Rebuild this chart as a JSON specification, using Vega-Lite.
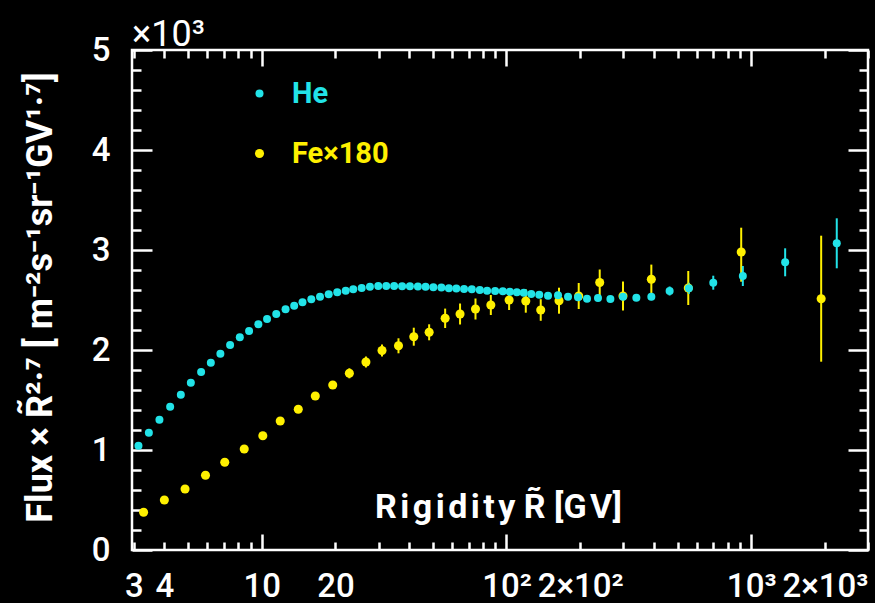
{
  "$schema": "https://vega.github.io/schema/vega-lite/v6.json",
  "width": 736,
  "height": 500,
  "autosize": {"type": "none"},
  "padding": {"left": 132, "top": 50, "right": 7, "bottom": 53},
  "background": "black",
  "title": {"text": "×10³", "anchor": "start", "frame": "group", "fontSize": 36, "fontWeight": "normal", "font": "Roboto", "color": "white", "offset": 4, "dy": 24},
  "config": {
    "view": {"stroke": "white", "strokeWidth": 2.5},
    "axis": {"domain": false, "grid": false, "tickColor": "white", "tickWidth": 2.5, "labelColor": "white", "labelFont": "Roboto", "labelFontSize": 33, "labelFontWeight": 500, "titleColor": "white", "titleFont": "Roboto", "labelOverlap": false, "labelFlush": false, "labelBound": false}
  },
  "data": {"values": [
    {"s": "Fe×180", "R": 3.29, "F": 377, "lo": 362, "hi": 392},
    {"s": "Fe×180", "R": 4.0, "F": 500, "lo": 485, "hi": 515},
    {"s": "Fe×180", "R": 4.86, "F": 610, "lo": 595, "hi": 625},
    {"s": "Fe×180", "R": 5.89, "F": 747, "lo": 732, "hi": 762},
    {"s": "Fe×180", "R": 7.06, "F": 877, "lo": 859, "hi": 895},
    {"s": "Fe×180", "R": 8.48, "F": 1010, "lo": 990, "hi": 1030},
    {"s": "Fe×180", "R": 10.1, "F": 1143, "lo": 1123, "hi": 1163},
    {"s": "Fe×180", "R": 11.9, "F": 1290, "lo": 1268, "hi": 1312},
    {"s": "Fe×180", "R": 14.1, "F": 1407, "lo": 1382, "hi": 1432},
    {"s": "Fe×180", "R": 16.55, "F": 1540, "lo": 1510, "hi": 1570},
    {"s": "Fe×180", "R": 19.5, "F": 1650, "lo": 1610, "hi": 1690},
    {"s": "Fe×180", "R": 22.8, "F": 1767, "lo": 1717, "hi": 1817},
    {"s": "Fe×180", "R": 26.65, "F": 1880, "lo": 1825, "hi": 1935},
    {"s": "Fe×180", "R": 31.0, "F": 1995, "lo": 1935, "hi": 2055},
    {"s": "Fe×180", "R": 36.2, "F": 2042, "lo": 1967, "hi": 2117},
    {"s": "Fe×180", "R": 41.8, "F": 2133, "lo": 2043, "hi": 2223},
    {"s": "Fe×180", "R": 48.3, "F": 2177, "lo": 2097, "hi": 2257},
    {"s": "Fe×180", "R": 56.15, "F": 2317, "lo": 2220, "hi": 2414},
    {"s": "Fe×180", "R": 64.6, "F": 2360, "lo": 2255, "hi": 2465},
    {"s": "Fe×180", "R": 74.7, "F": 2410, "lo": 2305, "hi": 2515},
    {"s": "Fe×180", "R": 86.3, "F": 2450, "lo": 2350, "hi": 2550},
    {"s": "Fe×180", "R": 102.5, "F": 2500, "lo": 2400, "hi": 2600},
    {"s": "Fe×180", "R": 119.9, "F": 2490, "lo": 2373, "hi": 2607},
    {"s": "Fe×180", "R": 138, "F": 2400, "lo": 2292, "hi": 2508},
    {"s": "Fe×180", "R": 163.9, "F": 2493, "lo": 2363, "hi": 2623},
    {"s": "Fe×180", "R": 197.3, "F": 2540, "lo": 2410, "hi": 2670},
    {"s": "Fe×180", "R": 240.4, "F": 2675, "lo": 2545, "hi": 2805},
    {"s": "Fe×180", "R": 299.2, "F": 2540, "lo": 2395, "hi": 2685},
    {"s": "Fe×180", "R": 390.7, "F": 2707, "lo": 2560, "hi": 2854},
    {"s": "Fe×180", "R": 553, "F": 2620, "lo": 2450, "hi": 2790},
    {"s": "Fe×180", "R": 910, "F": 2980, "lo": 2683, "hi": 3223},
    {"s": "Fe×180", "R": 1931, "F": 2513, "lo": 1883, "hi": 3143},
    {"s": "He", "R": 3.135, "F": 1043, "lo": 1035, "hi": 1051},
    {"s": "He", "R": 3.457, "F": 1173, "lo": 1165, "hi": 1181},
    {"s": "He", "R": 3.819, "F": 1303, "lo": 1295, "hi": 1311},
    {"s": "He", "R": 4.224, "F": 1433, "lo": 1425, "hi": 1441},
    {"s": "He", "R": 4.67, "F": 1553, "lo": 1545, "hi": 1561},
    {"s": "He", "R": 5.131, "F": 1673, "lo": 1665, "hi": 1681},
    {"s": "He", "R": 5.652, "F": 1780, "lo": 1772, "hi": 1788},
    {"s": "He", "R": 6.193, "F": 1873, "lo": 1865, "hi": 1881},
    {"s": "He", "R": 6.776, "F": 1963, "lo": 1955, "hi": 1971},
    {"s": "He", "R": 7.424, "F": 2050, "lo": 2042, "hi": 2058},
    {"s": "He", "R": 8.134, "F": 2127, "lo": 2119, "hi": 2135},
    {"s": "He", "R": 8.877, "F": 2190, "lo": 2182, "hi": 2198},
    {"s": "He", "R": 9.685, "F": 2257, "lo": 2249, "hi": 2265},
    {"s": "He", "R": 10.51, "F": 2310, "lo": 2302, "hi": 2318},
    {"s": "He", "R": 11.46, "F": 2360, "lo": 2352, "hi": 2368},
    {"s": "He", "R": 12.51, "F": 2407, "lo": 2399, "hi": 2415},
    {"s": "He", "R": 13.57, "F": 2443, "lo": 2435, "hi": 2451},
    {"s": "He", "R": 14.67, "F": 2478, "lo": 2470, "hi": 2486},
    {"s": "He", "R": 15.94, "F": 2507, "lo": 2499, "hi": 2515},
    {"s": "He", "R": 17.3, "F": 2533, "lo": 2525, "hi": 2541},
    {"s": "He", "R": 18.77, "F": 2558, "lo": 2550, "hi": 2566},
    {"s": "He", "R": 20.35, "F": 2578, "lo": 2570, "hi": 2586},
    {"s": "He", "R": 22.03, "F": 2592, "lo": 2584, "hi": 2600},
    {"s": "He", "R": 23.65, "F": 2607, "lo": 2599, "hi": 2615},
    {"s": "He", "R": 25.6, "F": 2620, "lo": 2612, "hi": 2628},
    {"s": "He", "R": 27.67, "F": 2632, "lo": 2624, "hi": 2640},
    {"s": "He", "R": 29.92, "F": 2640, "lo": 2632, "hi": 2648},
    {"s": "He", "R": 32.26, "F": 2640, "lo": 2632, "hi": 2648},
    {"s": "He", "R": 34.74, "F": 2640, "lo": 2632, "hi": 2648},
    {"s": "He", "R": 37.45, "F": 2638, "lo": 2630, "hi": 2646},
    {"s": "He", "R": 40.3, "F": 2637, "lo": 2629, "hi": 2645},
    {"s": "He", "R": 43.45, "F": 2635, "lo": 2627, "hi": 2643},
    {"s": "He", "R": 46.71, "F": 2632, "lo": 2624, "hi": 2640},
    {"s": "He", "R": 50.25, "F": 2628, "lo": 2620, "hi": 2636},
    {"s": "He", "R": 54.19, "F": 2625, "lo": 2617, "hi": 2633},
    {"s": "He", "R": 58.15, "F": 2618, "lo": 2610, "hi": 2626},
    {"s": "He", "R": 62.38, "F": 2615, "lo": 2607, "hi": 2623},
    {"s": "He", "R": 67.07, "F": 2610, "lo": 2602, "hi": 2618},
    {"s": "He", "R": 72.17, "F": 2607, "lo": 2599, "hi": 2615},
    {"s": "He", "R": 77.8, "F": 2600, "lo": 2592, "hi": 2608},
    {"s": "He", "R": 83.32, "F": 2593, "lo": 2585, "hi": 2601},
    {"s": "He", "R": 89.85, "F": 2590, "lo": 2582, "hi": 2598},
    {"s": "He", "R": 96.58, "F": 2587, "lo": 2579, "hi": 2595},
    {"s": "He", "R": 103.2, "F": 2582, "lo": 2570, "hi": 2594},
    {"s": "He", "R": 110.2, "F": 2578, "lo": 2566, "hi": 2590},
    {"s": "He", "R": 117.6, "F": 2572, "lo": 2560, "hi": 2584},
    {"s": "He", "R": 126.2, "F": 2560, "lo": 2548, "hi": 2572},
    {"s": "He", "R": 136.1, "F": 2553, "lo": 2541, "hi": 2565},
    {"s": "He", "R": 147.8, "F": 2543, "lo": 2531, "hi": 2555},
    {"s": "He", "R": 162.4, "F": 2547, "lo": 2535, "hi": 2559},
    {"s": "He", "R": 178.4, "F": 2533, "lo": 2521, "hi": 2545},
    {"s": "He", "R": 196.0, "F": 2527, "lo": 2515, "hi": 2539},
    {"s": "He", "R": 213.3, "F": 2513, "lo": 2501, "hi": 2525},
    {"s": "He", "R": 236.5, "F": 2520, "lo": 2505, "hi": 2535},
    {"s": "He", "R": 265.8, "F": 2510, "lo": 2485, "hi": 2535},
    {"s": "He", "R": 299.2, "F": 2533, "lo": 2505, "hi": 2561},
    {"s": "He", "R": 339.3, "F": 2523, "lo": 2493, "hi": 2553},
    {"s": "He", "R": 390.7, "F": 2533, "lo": 2498, "hi": 2568},
    {"s": "He", "R": 464.0, "F": 2590, "lo": 2545, "hi": 2635},
    {"s": "He", "R": 556.3, "F": 2617, "lo": 2562, "hi": 2672},
    {"s": "He", "R": 699.6, "F": 2673, "lo": 2603, "hi": 2743},
    {"s": "He", "R": 924.1, "F": 2740, "lo": 2640, "hi": 2840},
    {"s": "He", "R": 1376, "F": 2877, "lo": 2737, "hi": 3017},
    {"s": "He", "R": 2236, "F": 3067, "lo": 2817, "hi": 3317}
  ]},
  "layer": [
    {
      "mark": {"type": "rule", "strokeWidth": 2},
      "encoding": {
        "x": {"field": "R", "type": "quantitative",
          "scale": {"type": "log", "domain": [2.95, 3000], "nice": false},
          "axis": {
            "orient": "bottom",
            "values": [3,4,5,6,7,8,9,10,20,30,40,50,60,70,80,90,100,200,300,400,500,600,700,800,900,1000,2000,3000],
            "labelExpr": "datum.value==3?'3':datum.value==4?'4':datum.value==10?'10':datum.value==20?'20':datum.value==100?'10²':datum.value==200?'2×10²':datum.value==1000?'10³':datum.value==2000?'2×10³':''",
            "tickSize": {"condition": {"test": "datum.value==10||datum.value==100||datum.value==1000", "value": -16}, "value": -8},
            "labelPadding": {"condition": {"test": "datum.value==10||datum.value==100||datum.value==1000", "value": 36}, "value": 28},
            "title": "R\u200ai\u200ag\u200ai\u200ad\u200ai\u200at\u200ay   R̃ [G\u200aV]",
            "titleFontSize": 34,
            "titleFontWeight": "bold",
            "titleX": 366,
            "titleY": -33,
            "titleAlign": "center",
            "titleBaseline": "alphabetic"
          }},
        "y": {"field": "lo", "type": "quantitative",
          "scale": {"domain": [0, 5000], "nice": false},
          "axis": {
            "orient": "left",
            "values": [0,200,400,600,800,1000,1200,1400,1600,1800,2000,2200,2400,2600,2800,3000,3200,3400,3600,3800,4000,4200,4400,4600,4800,5000],
            "labelExpr": "datum.value % 1000 == 0 ? format(datum.value/1000, 'd') : ''",
            "tickSize": {"condition": {"test": "datum.value % 1000 == 0", "value": -20}, "value": -9},
            "labelPadding": {"condition": {"test": "datum.value % 1000 == 0", "value": 42}, "value": 31},
            "title": "Flux × R̃²·⁷ [ m⁻²s⁻¹sr⁻¹GV¹·⁷]",
            "titleFontSize": 36,
            "titleFontWeight": "bold",
            "titleAngle": -90,
            "titleX": -92,
            "titleY": 247,
            "titleAlign": "center",
            "titleBaseline": "middle"
          }},
        "y2": {"field": "hi"},
        "stroke": {"field": "s", "type": "nominal",
          "scale": {"domain": ["Fe×180", "He"], "range": ["#fff000", "#22e3e8"]},
          "legend": null}
      }
    },
    {
      "mark": {"type": "circle", "opacity": 1},
      "encoding": {
        "x": {"field": "R", "type": "quantitative",
          "axis": {
            "orient": "top",
            "values": [3,4,5,6,7,8,9,10,20,30,40,50,60,70,80,90,100,200,300,400,500,600,700,800,900,1000,2000,3000],
            "labels": false,
            "tickSize": {"condition": {"test": "datum.value==10||datum.value==100||datum.value==1000", "value": -16}, "value": -8},
            "title": null
          }},
        "y": {"field": "F", "type": "quantitative",
          "axis": {
            "orient": "right",
            "values": [0,200,400,600,800,1000,1200,1400,1600,1800,2000,2200,2400,2600,2800,3000,3200,3400,3600,3800,4000,4200,4400,4600,4800,5000],
            "labels": false,
            "tickSize": {"condition": {"test": "datum.value % 1000 == 0", "value": -20}, "value": -9},
            "title": null
          }},
        "color": {"field": "s", "type": "nominal",
          "scale": {"domain": ["He", "Fe×180"], "range": ["#22e3e8", "#fff000"]},
          "legend": {"title": null, "orient": "none", "legendX": 113, "legendY": 29, "padding": 0,
            "labelFont": "Roboto", "labelFontSize": 29, "labelFontWeight": "bold", "labelOffset": 18, "rowPadding": 30,
            "symbolType": "circle", "symbolStrokeWidth": 0, "symbolOpacity": 1, "labelColor": "white",
            "encoding": {"labels": {"fill": {"condition": {"test": "datum.value == 'He'", "value": "#22e3e8"}, "value": "#fff000"}}}}},
        "size": {"field": "s", "type": "nominal",
          "scale": {"domain": ["He", "Fe×180"], "range": [64, 82]}}
      }
    }
  ],
  "resolve": {"axis": {"x": "independent", "y": "independent"}}
}
